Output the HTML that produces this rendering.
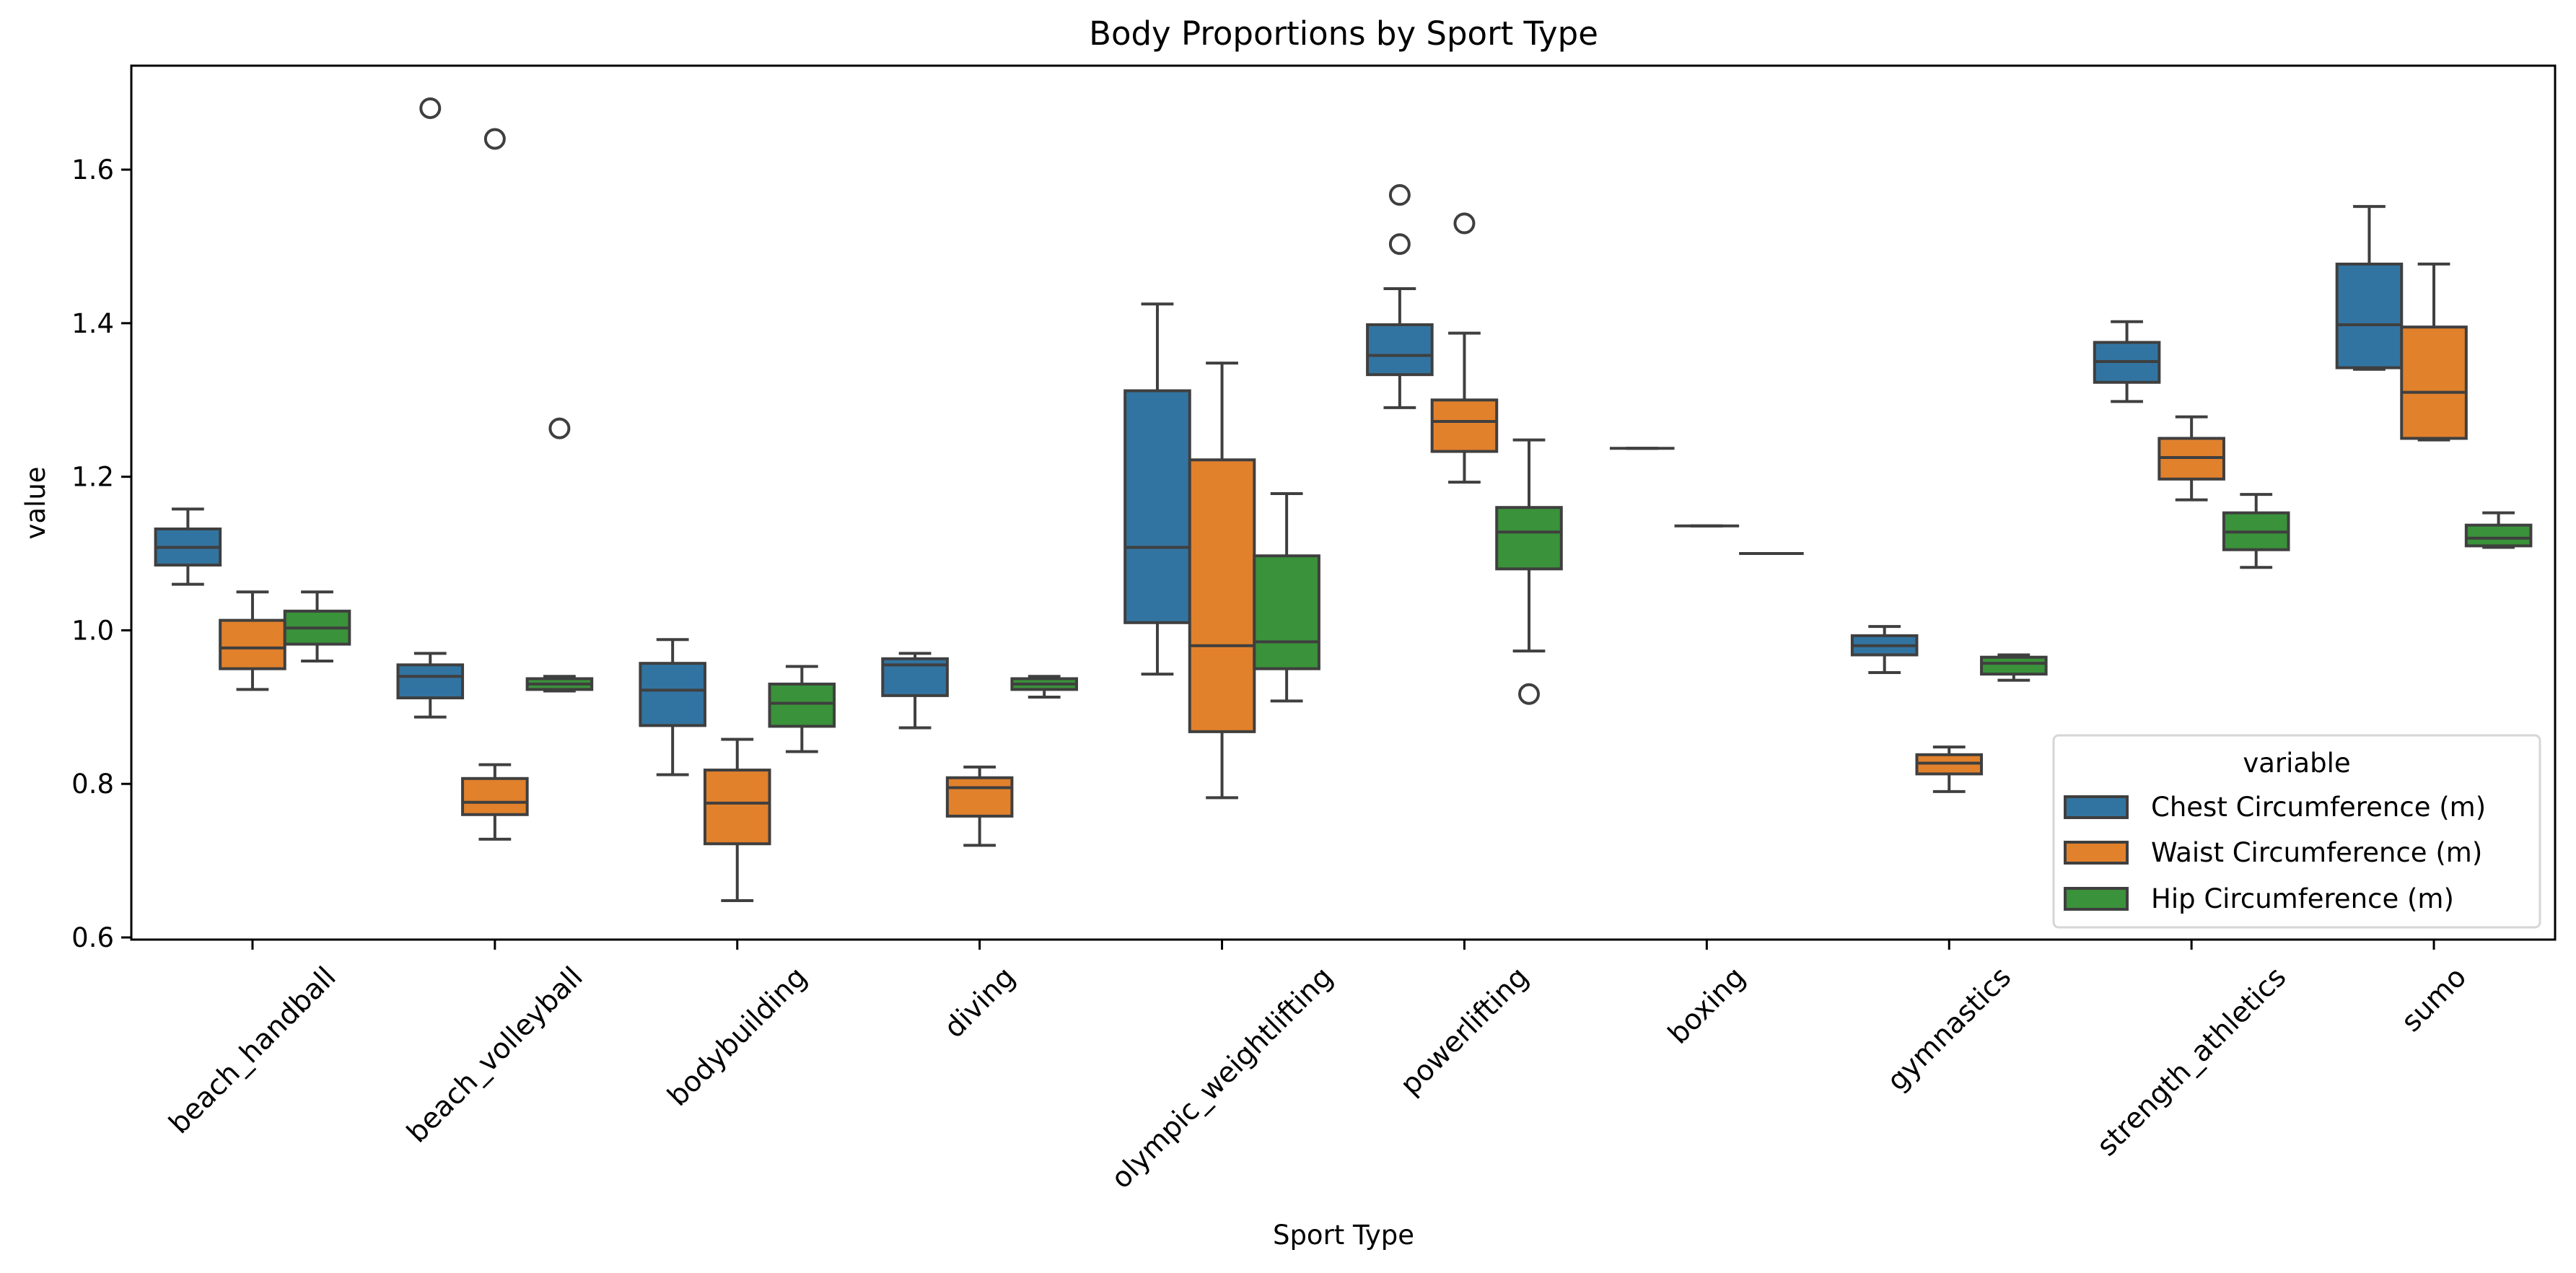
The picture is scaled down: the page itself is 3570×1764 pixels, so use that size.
<!DOCTYPE html>
<html><head><meta charset="utf-8"><style>
html,body{margin:0;padding:0;background:#fff;}
svg{display:block;font-family:"DejaVu Sans","Liberation Sans",sans-serif;}
</style></head><body>
<svg id="chart" width="3570" height="1764" viewBox="0 0 3570 1764" xmlns="http://www.w3.org/2000/svg">
<rect width="3570" height="1764" fill="#fff"/>
<text x="1862" y="62" font-size="45" text-anchor="middle" fill="#000">Body Proportions by Sport Type</text>
<g id="plot"></g>
<rect x="182" y="91" width="3359" height="1211" fill="none" stroke="#000" stroke-width="3"/>
<text x="1862" y="1724" font-size="37" text-anchor="middle">Sport Type</text>
<text transform="translate(62,697) rotate(-90)" font-size="37" text-anchor="middle">value</text>
<g id="legend">
<rect x="2846" y="1019" width="674" height="266" rx="7" fill="#fff" fill-opacity="0.8" stroke="#d6d6d6" stroke-width="3"/>
<text x="3183" y="1070" font-size="37" text-anchor="middle">variable</text>
<rect x="2862" y="1104" width="86" height="29" fill="#3274a1" stroke="#3f3f3f" stroke-width="4"/>
<text x="2981" y="1131" font-size="37">Chest Circumference (m)</text>
<rect x="2862" y="1167" width="86" height="29" fill="#e1812c" stroke="#3f3f3f" stroke-width="4"/>
<text x="2981" y="1194" font-size="37">Waist Circumference (m)</text>
<rect x="2862" y="1231" width="86" height="29" fill="#3a923a" stroke="#3f3f3f" stroke-width="4"/>
<text x="2981" y="1258" font-size="37">Hip Circumference (m)</text>
</g>
</svg>
<script>
const categories = ["beach_handball","beach_volleyball","bodybuilding","diving","olympic_weightlifting","powerlifting","boxing","gymnastics","strength_athletics","sumo"];
const seriesNames = ["chest","waist","hip"];
const seriesColors = ["#3274a1","#e1812c","#3a923a"];
// [whiskerLow, q1, median, q3, whiskerHigh]
const chestStats = [[1.06,1.085,1.108,1.132,1.158],[0.887,0.912,0.94,0.955,0.97],[0.812,0.876,0.922,0.957,0.988],[0.873,0.915,0.955,0.963,0.97],[0.943,1.01,1.108,1.312,1.425],[1.29,1.333,1.358,1.398,1.445],[1.237,1.237,1.237,1.237,1.237],[0.945,0.968,0.98,0.993,1.005],[1.298,1.323,1.35,1.375,1.402],[1.34,1.342,1.398,1.477,1.552]];
const waistStats = [[0.923,0.95,0.977,1.013,1.05],[0.728,0.76,0.776,0.807,0.825],[0.648,0.722,0.775,0.818,0.858],[0.72,0.758,0.795,0.808,0.822],[0.782,0.868,0.98,1.222,1.348],[1.193,1.233,1.272,1.3,1.387],[1.136,1.136,1.136,1.136,1.136],[0.79,0.813,0.827,0.838,0.848],[1.17,1.197,1.225,1.25,1.278],[1.248,1.25,1.31,1.395,1.477]];
const hipStats = [[0.96,0.982,1.003,1.025,1.05],[0.921,0.923,0.93,0.937,0.94],[0.842,0.875,0.905,0.93,0.953],[0.913,0.923,0.93,0.937,0.94],[0.908,0.95,0.985,1.097,1.178],[0.973,1.08,1.128,1.16,1.248],[1.1,1.1,1.1,1.1,1.1],[0.935,0.943,0.957,0.965,0.968],[1.082,1.105,1.128,1.153,1.177],[1.108,1.11,1.12,1.137,1.153]];
const chestOutliers = [[],[1.68],[],[],[],[1.503,1.567],[],[],[],[]];
const waistOutliers = [[],[1.64],[],[],[],[1.53],[],[],[],[]];
const hipOutliers = [[],[1.263],[],[],[],[0.917],[],[],[],[]];
const yTicks = [0.6,0.8,1.0,1.2,1.4,1.6];
const yTickLabels = ["0.6","0.8","1.0","1.2","1.4","1.6"];

const NS="http://www.w3.org/2000/svg";
const L=182,R=3541,T=91,B=1302, yMin=0.5972, yMax=1.7354;
const y = v => B - (v - yMin)/(yMax - yMin)*(B - T);
const bandW=(R-L)/categories.length;
const xc = i => L + bandW*(i+0.5);
const boxW = bandW*0.8/3;
const plot=document.getElementById('plot');
function mk(tag, attrs, parent){const e=document.createElementNS(NS,tag);for(const k in attrs)e.setAttribute(k,attrs[k]);(parent||plot).appendChild(e);return e;}
const ED="#3f3f3f", LW=4;

yTicks.forEach((t,i)=>{
  const ln=mk('line',{x1:L-14,x2:L,y1:y(t),y2:y(t),stroke:'#000','stroke-width':3});
  
  
  const tx=mk('text',{x:L-24,y:y(t)+13,'font-size':37,'text-anchor':'end'});
  tx.textContent=yTickLabels[i];
  
  
});

const allStats=[chestStats,waistStats,hipStats];
const allOut=[chestOutliers,waistOutliers,hipOutliers];
categories.forEach((c,i)=>{
  const tl=mk('line',{x1:xc(i),x2:xc(i),y1:B,y2:B+14,stroke:'#000','stroke-width':3});
  
  
  const tx=mk('text',{'font-size':39,'text-anchor':'middle'});
  tx.textContent=c;
  
  
  const len=tx.getComputedTextLength();
  const h=39*0.95;
  const half=(len*Math.SQRT1_2+h*Math.SQRT1_2)/2;
  const cy=1334+half;
  tx.setAttribute('transform',`translate(${xc(i)},${cy}) rotate(-45) translate(0,${h*0.35})`);

  seriesNames.forEach((s,j)=>{
    const st=allStats[j][i];
    const cx=xc(i)+(j-1)*boxW;
    const x0=cx-boxW/2;
    const g=mk('g',{});
    
    
    mk('line',{x1:cx,x2:cx,y1:y(st[0]),y2:y(st[1]),stroke:ED,'stroke-width':LW},g);
    mk('line',{x1:cx,x2:cx,y1:y(st[3]),y2:y(st[4]),stroke:ED,'stroke-width':LW},g);
    mk('line',{x1:cx-boxW/4,x2:cx+boxW/4,y1:y(st[0]),y2:y(st[0]),stroke:ED,'stroke-width':LW},g);
    mk('line',{x1:cx-boxW/4,x2:cx+boxW/4,y1:y(st[4]),y2:y(st[4]),stroke:ED,'stroke-width':LW},g);
    mk('rect',{x:x0,y:y(st[3]),width:boxW,height:Math.max(0,y(st[1])-y(st[3])),fill:seriesColors[j],stroke:ED,'stroke-width':LW},g);
    mk('line',{x1:x0,x2:x0+boxW,y1:y(st[2]),y2:y(st[2]),stroke:ED,'stroke-width':LW},g);
    allOut[j][i].forEach(v=>{
      const o=mk('circle',{cx:cx,cy:y(v),r:13,fill:'none',stroke:ED,'stroke-width':4});
      
      
    });
  });
});
</script>
</body></html>
